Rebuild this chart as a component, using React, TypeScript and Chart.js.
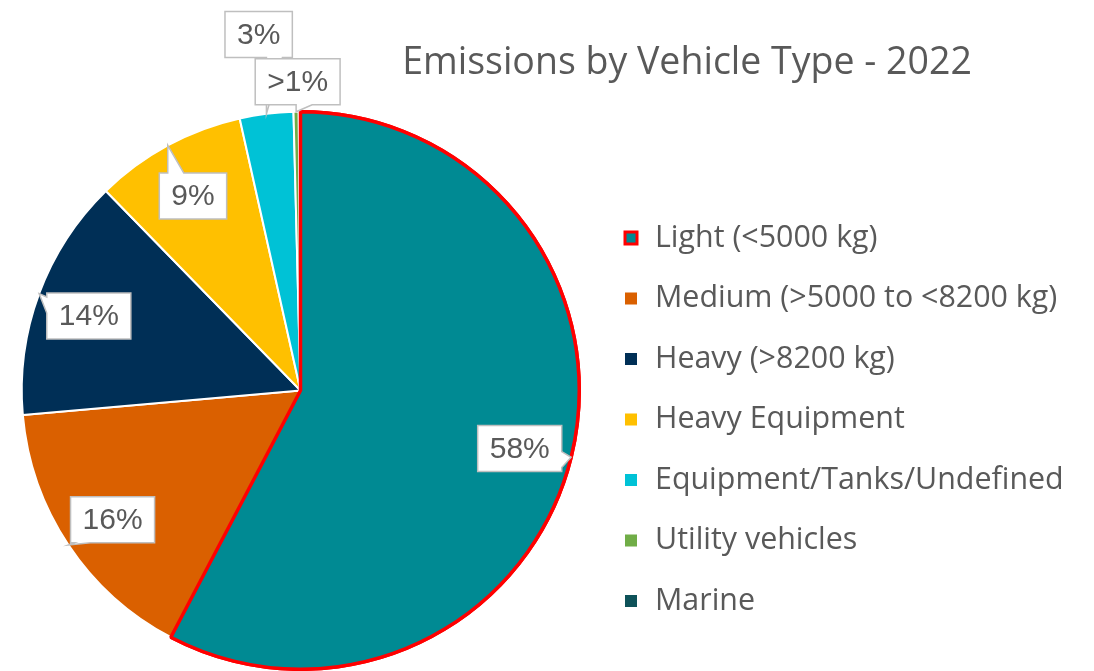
import React, { useEffect, useRef } from 'react';
import { Chart, registerables } from 'chart.js';

Chart.register(...registerables);

const categories = [
  'Light (<5000 kg)',
  'Medium (>5000 to <8200 kg)',
  'Heavy (>8200 kg)',
  'Heavy Equipment',
  'Equipment/Tanks/Undefined',
  'Utility vehicles',
  'Marine',
];
const shares = [57.7, 15.9, 14.1, 8.8, 3.1, 0.3, 0.1];
const shareLabels = ['58%', '16%', '14%', '9%', '3%', '>1%', ''];
const sliceColors = ['#008A93', '#DA6000', '#002F56', '#FFC000', '#00C2D6', '#70AD47', '#0E5259'];
const sliceBorders = ['#FF0000', '#FFFFFF', '#FFFFFF', '#FFFFFF', '#FFFFFF', '#FFFFFF', '#FFFFFF'];
const sliceBorderWidths = [3.5, 2, 2, 2, 2, 2, 2];
const titleText = 'Emissions by Vehicle Type - 2022';

const TEXT_COLOR = '#595959';
const UI_FONT = '"Open Sans", "Noto Sans", sans-serif';
const LABEL_FONT = '"Liberation Sans", Arial, sans-serif';

function calloutPath(
  ctx: CanvasRenderingContext2D,
  l: number, t: number, r: number, b: number,
  tx: number, ty: number
) {
  const bw = 16;
  let side: 'top' | 'bottom' | 'left' | 'right';
  if (ty >= t && ty <= b) side = tx > r ? 'right' : 'left';
  else side = ty < t ? 'top' : 'bottom';
  const clampX = Math.min(Math.max(tx, l + 4), r - bw - 4);
  const clampY = Math.min(Math.max(ty, t + 4), b - bw - 4);
  ctx.beginPath();
  ctx.moveTo(l, t);
  if (side === 'top') { ctx.lineTo(clampX, t); ctx.lineTo(tx, ty); ctx.lineTo(clampX + bw, t); }
  ctx.lineTo(r, t);
  if (side === 'right') { ctx.lineTo(r, clampY); ctx.lineTo(tx, ty); ctx.lineTo(r, clampY + bw); }
  ctx.lineTo(r, b);
  if (side === 'bottom') { ctx.lineTo(clampX + bw, b); ctx.lineTo(tx, ty); ctx.lineTo(clampX, b); }
  ctx.lineTo(l, b);
  if (side === 'left') { ctx.lineTo(l, clampY + bw); ctx.lineTo(tx, ty); ctx.lineTo(l, clampY); }
  ctx.closePath();
}

const decorPlugin = {
  id: 'decor',
  afterDatasetsDraw(chart: any) {
    const ctx: CanvasRenderingContext2D = chart.ctx;
    const meta = chart.getDatasetMeta(0);
    // redraw highlighted slice so its red outline sits on top
    meta.data[0].draw(ctx);

    ctx.save();
    ctx.font = `30px ${LABEL_FONT}`;
    meta.data.forEach((arc: any, i: number) => {
      const text = shareLabels[i];
      if (!text) return;
      const { x, y, startAngle, endAngle, outerRadius } = arc.getProps(
        ['x', 'y', 'startAngle', 'endAngle', 'outerRadius'], true);
      const mid = (startAngle + endAngle) / 2;
      const c = Math.cos(mid), s = Math.sin(mid);
      const tipX = x + c * outerRadius;
      const tipY = y + s * outerRadius;
      let cx: number, cy: number;
      if (shares[i] >= 5) {
        cx = x + c * outerRadius * 0.81;
        cy = y + s * outerRadius * 0.81 + 4;
      } else {
        let after = 0;
        for (let j = i + 1; j < shares.length; j++) if (shares[j] < 5 && shareLabels[j]) after++;
        const d = 30 + 50 * after;
        cx = tipX + c * d + 2;
        cy = tipY + s * d;
      }
      const w = ctx.measureText(text).width + 24;
      const h = 46;
      const l = cx - w / 2, t = cy - h / 2, r = cx + w / 2, b = cy + h / 2;
      calloutPath(ctx, l, t, r, b, tipX, tipY);
      ctx.fillStyle = '#FFFFFF';
      ctx.fill();
      ctx.lineWidth = 1.5;
      ctx.strokeStyle = '#BFBFBF';
      ctx.stroke();
      ctx.fillStyle = TEXT_COLOR;
      ctx.textAlign = 'center';
      ctx.textBaseline = 'middle';
      ctx.fillText(text, cx, cy + 1);
    });
    ctx.restore();
  },
  afterDraw(chart: any) {
    const ctx: CanvasRenderingContext2D = chart.ctx;
    ctx.save();
    // title
    ctx.font = `37.5px ${UI_FONT}`;
    ctx.fillStyle = TEXT_COLOR;
    ctx.textAlign = 'center';
    ctx.textBaseline = 'alphabetic';
    ctx.fillText(titleText, 687, 74);

    // legend
    const ds = chart.data.datasets[0];
    const lx = 625;
    const ly0 = 238;
    const step = 60.5;
    ctx.font = `30.4px ${UI_FONT}`;
    ctx.textAlign = 'left';
    ctx.textBaseline = 'middle';
    chart.data.labels.forEach((lab: string, i: number) => {
      const yc = ly0 + i * step;
      ctx.fillStyle = ds.backgroundColor[i];
      ctx.fillRect(lx, yc - 6, 12, 12);
      if (i === 0) {
        ctx.lineWidth = 3;
        ctx.strokeStyle = ds.borderColor[i];
        ctx.strokeRect(lx, yc - 6, 12, 12);
      }
      ctx.fillStyle = TEXT_COLOR;
      ctx.fillText(lab, 655, yc);
    });
    ctx.restore();
  },
};

export default function App() {
  const ref = useRef<HTMLCanvasElement>(null);
  useEffect(() => {
    document.body.style.margin = '0';
    if (!ref.current) return;
    const chart = new Chart(ref.current, {
      type: 'pie',
      data: {
        labels: categories,
        datasets: [{
          data: shares,
          backgroundColor: sliceColors,
          borderColor: sliceBorders,
          borderWidth: sliceBorderWidths,
          hoverOffset: 0,
          hoverBorderWidth: 0,
        }],
      },
      options: {
        responsive: false,
        animation: false,
        devicePixelRatio: 1,
        layout: { padding: { top: 110, left: 19, right: 512, bottom: 0 } },
        plugins: {
          legend: { display: false },
          title: { display: false },
          tooltip: { enabled: false },
        },
        events: [],
      },
      plugins: [decorPlugin],
    });
    return () => chart.destroy();
  }, []);
  return (
    <div style={{ position: 'fixed', left: 0, top: 0, width: 1094, height: 671, background: '#FFFFFF' }}>
      <canvas ref={ref} width={1094} height={671} style={{ display: 'block' }} />
    </div>
  );
}
